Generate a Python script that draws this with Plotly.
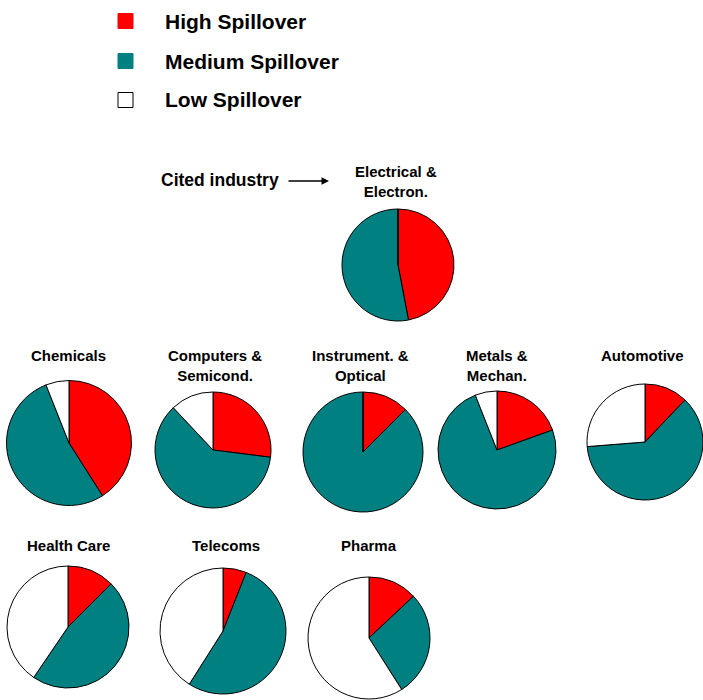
import plotly.graph_objects as go

W, H = 703, 700

industries = ["Electrical &<br>Electron.", "Chemicals", "Computers &<br>Semicond.",
              "Instrument. &<br>Optical", "Metals &<br>Mechan.", "Automotive",
              "Health Care", "Telecoms", "Pharma"]
spill_labels = ["High Spillover", "Medium Spillover", "Low Spillover"]
high = [47, 41, 27, 12.5, 19.5, 12, 12.5, 6, 13]
medium = [53, 53, 61, 87.5, 74.5, 61, 47, 53, 28]
low = [0, 6, 12, 0, 6, 26, 40.5, 41, 59]

colors = ["#ff0000", "#008080", "#ffffff"]

# pie placement in window pixels: centre x, centre y, diameter, title y
layout_px = [
    (398, 265, 112, 181),
    (69, 443, 125, 355),
    (213, 450, 116, 365),
    (363, 452, 120, 365),
    (497, 450, 118, 365),
    (645, 442, 116, 355),
    (68, 627, 122, 545),
    (223, 631, 126, 545),
    (369, 638, 122, 545),
]
title_x = [396, 68, 215, 360, 497, 642, 68, 226, 369]


def px(x):
    return min(max(x / W, 0), 1)


def py(y):
    return min(max(1 - y / H, 0), 1)


fig = go.Figure()
for i, name in enumerate(industries):
    cx, cy, d, ty = layout_px[i]
    r = d / 2
    fig.add_trace(go.Pie(
        labels=spill_labels,
        values=[high[i], medium[i], low[i]],
        sort=False,
        direction="clockwise",
        rotation=0,
        textinfo="none",
        hoverinfo="label+percent",
        marker=dict(colors=colors, line=dict(color="black", width=1)),
        domain=dict(x=[px(cx - r), px(cx + r)], y=[py(cy + r), py(cy - r)]),
        showlegend=False,
    ))
    fig.add_annotation(x=px(title_x[i]), y=py(ty), text="<b>" + name + "</b>",
                       showarrow=False, xref="paper", yref="paper",
                       xanchor="center", yanchor="middle",
                       font=dict(size=15, color="black"))

# legend drawn by hand
shapes = []
leg_y = [21, 61, 100]
for lbl, col, y in zip(spill_labels, colors, leg_y):
    shapes.append(dict(type="rect", xref="paper", yref="paper",
                       x0=px(118), x1=px(133), y0=py(y + 7.5), y1=py(y - 7.5),
                       fillcolor=col,
                       line=dict(color=col if col != "#ffffff" else "black", width=1)))
    fig.add_annotation(x=px(163), y=py(y), text="<b>" + lbl + "</b>", showarrow=False,
                       xref="paper", yref="paper", xanchor="left", yanchor="middle",
                       font=dict(size=21, color="black"))

fig.add_annotation(x=px(159), y=py(180), text="<b>Cited industry</b>", showarrow=False,
                   xref="paper", yref="paper", xanchor="left", yanchor="middle",
                   font=dict(size=17.5, color="black"))
fig.add_annotation(x=px(329), y=py(181), ax=-42, ay=0, text="", showarrow=True,
                   xref="paper", yref="paper", arrowhead=2, arrowsize=1,
                   arrowwidth=1.5, arrowcolor="black")

fig.update_layout(
    width=W, height=H,
    margin=dict(l=0, r=0, t=0, b=0),
    paper_bgcolor="white",
    font=dict(family="Liberation Sans, Arial, sans-serif"),
    shapes=shapes,
    showlegend=False,
)
# drop the default body margin so the figure fills the window exactly
fig.write_html("out.html",
               config={"displayModeBar": False},
               post_script="document.body.style.margin='0';"
                           "document.body.style.overflow='hidden';")
